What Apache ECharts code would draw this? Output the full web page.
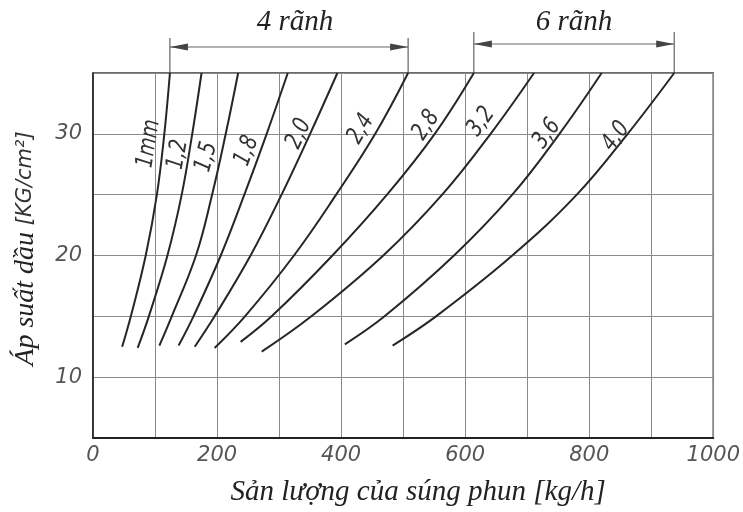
<!DOCTYPE html>
<html>
<head>
<meta charset="utf-8">
<script src="https://cdn.jsdelivr.net/npm/echarts@6/dist/echarts.min.js"></script>
<style>
  html, body { margin: 0; padding: 0; background: #fff; }
  #chart { width: 743px; height: 512px; }
</style>
</head>
<body>
<div id="chart"></div>
<script>
// Nozzle diameter curves: oil pressure [KG/cm²] vs. spray gun output [kg/h]
const curveNames = ['1mm', '1,2', '1,5', '1,8', '2,0', '2,4', '2,8', '3,2', '3,6', '4,0'];

// lower end of each curve
const startFlow     = [47, 72, 107, 138, 164, 196, 238, 272, 406, 483];
const startPressure = [12.5, 12.4, 12.6, 12.6, 12.5, 12.4, 12.9, 12.1, 12.7, 12.6];

// output read at the pressure grid levels
const levelPressure = [15, 20, 25, 30, 35];
const flowAt15 = [61, 90, 127, 162, 196, 245, 288, 352, 470, 553];
const flowAt20 = [85, 120, 166, 206, 254, 324, 386, 468, 582, 676];
const flowAt25 = [103, 143, 192, 244, 304, 392, 474, 563, 676, 780];
const flowAt30 = [115, 160, 214, 280, 350, 455, 551, 641, 752, 862];
const flowAt35 = [124, 175, 234, 314, 394, 508, 614, 711, 820, 937];

// where each curve's name is written, and its slant
const labelFlow     = [90, 137, 183, 248, 332, 432, 537, 626, 732, 843];
const labelPressure = [29.2, 28.3, 28.1, 28.6, 30.0, 30.4, 30.7, 31.0, 30.0, 29.8];
const labelAngle    = [81, 80, 75, 69, 65, 59, 56, 54, 54, 53];

// groove groups shown by the dimension arrows on top
const grooveGroups = [
  { text: '4 rãnh', from: 0, to: 5 },
  { text: '6 rãnh', from: 6, to: 9 }
];

const xTicks = [0, 200, 400, 600, 800, 1000];
const yTicks = [10, 20, 30];

const INK = '#262626';
const GRID = '#8a8a8a';
const SANS = '"DejaVu Sans", sans-serif';
const SERIF = '"Liberation Serif", "DejaVu Serif", serif';

const flowTable = [flowAt15, flowAt20, flowAt25, flowAt30, flowAt35];

const curveSeries = curveNames.map((name, i) => {
  const pts = [[startFlow[i], startPressure[i]]];
  levelPressure.forEach((p, k) => pts.push([flowTable[k][i], p]));
  return {
    name: name,
    type: 'line',
    data: pts,
    smooth: 0.4,
    showSymbol: false,
    silent: true,
    lineStyle: { color: INK, width: 2 },
    z: 5
  };
});

// curve names, written narrow and slanted along each curve
const labelSeries = {
  type: 'custom',
  silent: true,
  z: 6,
  data: curveNames.map((name, i) => [labelFlow[i], labelPressure[i], labelAngle[i]]),
  renderItem: (params, api) => {
    const p = api.coord([api.value(0), api.value(1)]);
    return {
      type: 'text',
      x: p[0], y: p[1],
      rotation: api.value(2) * Math.PI / 180,
      scaleX: 0.78,
      style: {
        text: curveNames[params.dataIndex],
        font: 'italic 24px ' + SANS,
        fill: '#333',
        align: 'center',
        verticalAlign: 'middle'
      }
    };
  }
};

const chart = echarts.init(document.getElementById('chart'), null, { renderer: 'canvas' });

chart.setOption({
  backgroundColor: '#ffffff',
  animation: false,
  grid: {
    left: 93, right: 25, top: 73, bottom: 70,
    show: true, borderColor: '#3a3a3a', borderWidth: 1.5, backgroundColor: 'transparent'
  },
  xAxis: {
    type: 'value',
    min: 0, max: 1000, interval: 100,
    axisLine: { show: true, lineStyle: { color: '#222', width: 2 } },
    axisTick: { show: false },
    splitLine: { show: true, lineStyle: { color: GRID, width: 1 } },
    axisLabel: {
      margin: 7,
      formatter: v => (xTicks.indexOf(v) >= 0 ? String(v) : ''),
      fontFamily: SANS, fontStyle: 'italic', fontSize: 21, color: '#555'
    },
    name: 'Sản lượng của súng phun [kg/h]',
    nameLocation: 'middle',
    nameGap: 40,
    nameTextStyle: {
      fontFamily: SERIF, fontStyle: 'italic', fontSize: 29, color: '#222',
      padding: [0, 0, 0, 30]
    }
  },
  yAxis: {
    type: 'value',
    min: 5, max: 35, interval: 5,
    axisLine: { show: true, lineStyle: { color: '#222', width: 1.5 } },
    axisTick: { show: false },
    splitLine: { show: true, lineStyle: { color: GRID, width: 1 } },
    axisLabel: {
      margin: 11,
      formatter: v => (yTicks.indexOf(v) >= 0 ? String(v) : ''),
      fontFamily: SANS, fontStyle: 'italic', fontSize: 21, color: '#555'
    },
    name: '{a|Áp suất dầu}  {b|[KG/cm²]}',
    nameLocation: 'middle',
    nameRotate: 90,
    nameGap: 53,
    nameTextStyle: {
      padding: [0, 0, 0, 14],
      rich: {
        a: { fontFamily: SERIF, fontStyle: 'italic', fontSize: 28, color: '#222' },
        b: { fontFamily: SANS, fontStyle: 'italic', fontSize: 21, color: '#333' }
      }
    }
  },
  series: curveSeries.concat([labelSeries])
});

// dimension arrows for the groove groups, hung from the tops of the curves
function drawGrooveArrows() {
  const elements = [];
  const arrowY = [47, 44];
  const extTop = [38, 32];
  grooveGroups.forEach((g, k) => {
    const a = chart.convertToPixel({ gridIndex: 0 }, [flowAt35[g.from], 35]);
    const b = chart.convertToPixel({ gridIndex: 0 }, [flowAt35[g.to], 35]);
    const y = arrowY[k];
    [a, b].forEach(p => elements.push({
      type: 'line', silent: true,
      shape: { x1: p[0], y1: extTop[k], x2: p[0], y2: p[1] },
      style: { stroke: '#444', lineWidth: 1 }
    }));
    elements.push({
      type: 'line', silent: true,
      shape: { x1: a[0], y1: y, x2: b[0], y2: y },
      style: { stroke: '#666', lineWidth: 1.2 }
    });
    const head = 18, half = 3.5;
    elements.push({
      type: 'polygon', silent: true,
      shape: { points: [[a[0], y], [a[0] + head, y - half], [a[0] + head, y + half]] },
      style: { fill: '#444' }
    });
    elements.push({
      type: 'polygon', silent: true,
      shape: { points: [[b[0], y], [b[0] - head, y - half], [b[0] - head, y + half]] },
      style: { fill: '#444' }
    });
    elements.push({
      type: 'text', silent: true,
      x: (a[0] + b[0]) / 2 + (k === 0 ? 6 : 0), y: 22,
      style: {
        text: g.text, fill: '#222',
        font: 'italic 29px ' + SERIF,
        align: 'center', verticalAlign: 'middle'
      }
    });
  });
  chart.setOption({ graphic: { elements: elements } });
}
drawGrooveArrows();
</script>
</body>
</html>
